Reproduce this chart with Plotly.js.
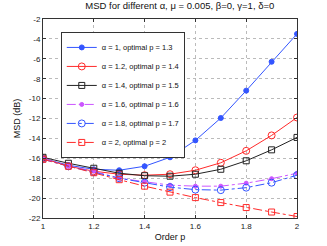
<!DOCTYPE html>
<html><head><meta charset="utf-8">
<script src="https://cdn.plot.ly/plotly-3.0.1.min.js"></script>
<style>html,body{margin:0;padding:0;background:#fff}#c{width:327px;height:246px}</style>
</head><body><div id="c"></div>
<script>
const p = [1, 1.1, 1.2, 1.3, 1.4, 1.5, 1.6, 1.7, 1.8, 1.9, 2];
const msdA10 = [-16.0, -16.7, -17.1, -17.2, -16.8, -15.9, -14.2, -11.95, -9.2, -6.3, -3.5];
const msdA12 = [-16.0, -16.8, -17.3, -17.6, -17.7, -17.6, -17.2, -16.45, -15.25, -13.7, -11.9];
const msdA14 = [-15.9, -16.5, -17.0, -17.5, -17.75, -17.8, -17.6, -17.1, -16.25, -15.15, -13.9];
const msdA16 = [-16.0, -16.8, -17.3, -18.0, -18.35, -18.7, -18.8, -18.8, -18.5, -18.05, -17.5];
const msdA18 = [-16.1, -16.8, -17.4, -18.0, -18.45, -18.9, -19.15, -19.2, -18.95, -18.45, -17.7];
const msdA20 = [-16.1, -16.8, -17.45, -18.15, -18.8, -19.4, -19.95, -20.45, -20.95, -21.4, -21.85];
const names = ['α = 1, optimal p = 1.3', 'α = 1.2, optimal p = 1.4', 'α = 1.4, optimal p = 1.5',
               'α = 1.6, optimal p = 1.6', 'α = 1.8, optimal p = 1.7', 'α = 2, optimal p = 2'];
const xTicks = [1, 1.2, 1.4, 1.6, 1.8, 2];
const xTickText = ['1', '1.2', '1.4', '1.6', '1.8', '2'];
const yTicks = [-22, -20, -18, -16, -14, -12, -10, -8, -6, -4, -2];
const yTickText = ['-22', '-20', '-18', '-16', '-14', '-12', '-10', '-8', '-6', '-4', '-2'];

const series = [msdA10, msdA12, msdA14, msdA16, msdA18, msdA20];
const styles = [
  {color: '#3355ff', dash: 'solid', symbol: 'circle', size: 5},
  {color: '#ff2a2a', dash: 'solid', symbol: 'circle-open', size: 7},
  {color: '#222222', dash: 'solid', symbol: 'square-open', size: 6},
  {color: '#cc55ff', dash: 'dashdot', symbol: 'circle', size: 4},
  {color: '#3355ff', dash: 'dashdot', symbol: 'circle-open', size: 7},
  {color: '#ff2a2a', dash: 'dashdot', symbol: 'square-open', size: 6}
];
const traces = series.map((y, i) => ({
  x: p, y: y, name: names[i], type: 'scatter', mode: 'lines+markers',
  line: {color: styles[i].color, dash: styles[i].dash, width: 1},
  marker: {color: styles[i].color, symbol: styles[i].symbol, size: styles[i].size, line: {color: styles[i].color, width: 1}}
}));

const layout = {
  width: 327, height: 246,
  margin: {l: 43, r: 30, t: 19, b: 28},
  paper_bgcolor: '#fff', plot_bgcolor: '#fff',
  font: {family: 'Liberation Sans, Arial, sans-serif', size: 8, color: '#222'},
  title: {text: 'MSD for different α, μ = 0.005, β=0, γ=1, δ=0', x: 0.55, xanchor: 'center', y: 0.99, yanchor: 'top', font: {size: 9.5, color: '#111'}},
  showlegend: true,
  legend: {x: 0.07, y: 0.935, xanchor: 'left', yanchor: 'top', bgcolor: '#fff', bordercolor: '#333', borderwidth: 1,
           font: {size: 7.5, color: '#111'}, tracegroupgap: 0, itemwidth: 30},
  xaxis: {range: [1, 2], tickvals: xTicks, ticktext: xTickText, ticks: 'inside', ticklen: 3, tickcolor: '#333',
          showline: true, linecolor: '#333', linewidth: 1, mirror: 'ticks', showgrid: true, gridcolor: '#bbb', griddash: 'dot', gridwidth: 1,
          zeroline: false, title: {text: 'Order p', standoff: 4, font: {size: 9, color: '#111'}}},
  yaxis: {range: [-22, -2], tickvals: yTicks, ticktext: yTickText, ticks: 'inside', ticklen: 3, tickcolor: '#333',
          showline: true, linecolor: '#333', linewidth: 1, mirror: 'ticks', showgrid: true, gridcolor: '#bbb', griddash: 'dot', gridwidth: 1,
          zeroline: false, title: {text: 'MSD (dB)', standoff: 6, font: {size: 9, color: '#111'}}}
};
Plotly.newPlot('c', traces, layout, {displayModeBar: false, staticPlot: true});
</script></body></html>
